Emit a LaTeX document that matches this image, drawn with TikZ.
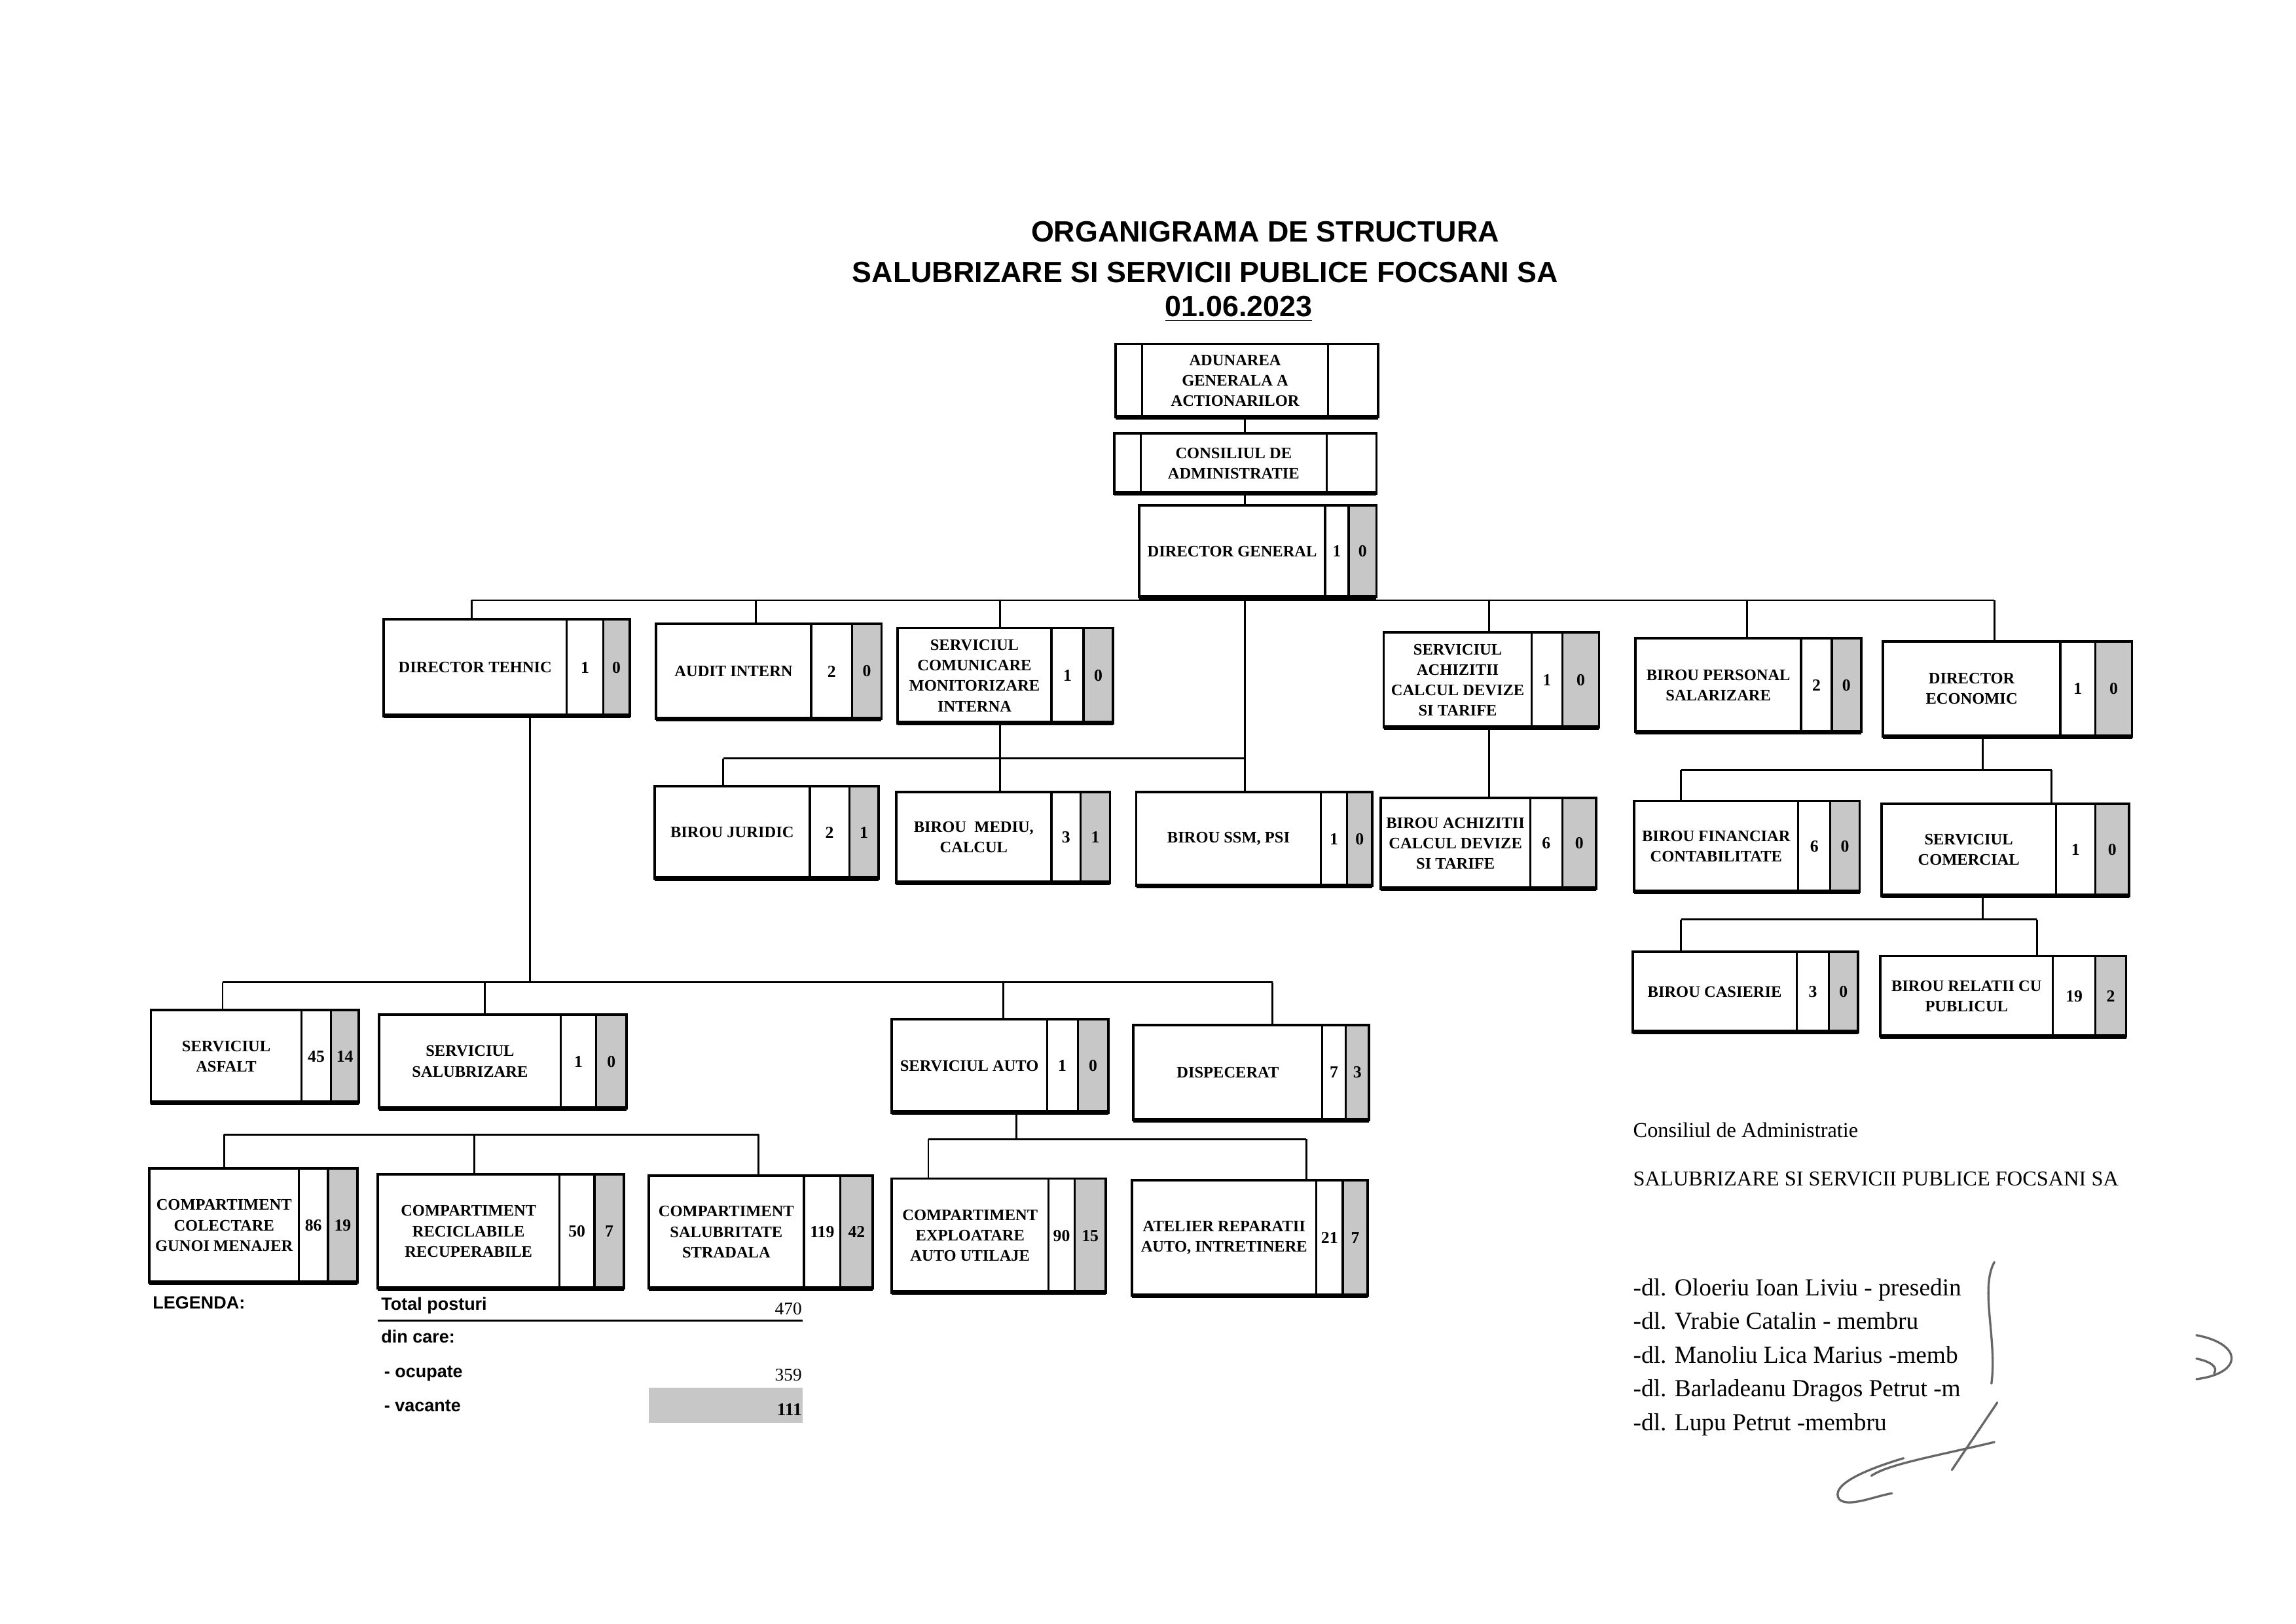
\documentclass[tikz,border=0pt]{standalone}
\usepackage{fontspec}
\setmainfont{Liberation Serif}
\newfontfamily\arialf{Liberation Sans}
\usetikzlibrary{fit}
\tikzset{
  frame/.style={draw, line width=0.9pt, inner sep=0pt, outer sep=0pt},
  conn/.style={line width=0.7pt},
  cell/.style={line width=0.8pt},
  vac/.style={fill=black!22},
  boxtext/.style={font=\fontsize{5.9}{7.5}\selectfont\bfseries, align=center, inner sep=0pt},
  numtext/.style={font=\fontsize{6.2}{7.5}\selectfont\bfseries, inner sep=0pt},
  titlefont/.style={font=\arialf\bfseries\fontsize{10.8}{13}\selectfont, anchor=base, inner sep=0pt},
  legfont/.style={font=\arialf\bfseries\fontsize{6.5}{8}\selectfont, inner sep=0pt},
  legnum/.style={font=\fontsize{6.6}{8}\selectfont, inner sep=0pt, anchor=base east},
  signame/.style={font=\fontsize{9}{11}\selectfont, inner sep=0pt, anchor=base west},
  sigline/.style={draw=black!60, line width=0.8pt, line cap=round},
}
\newcommand\obox[7]{%
  \fill[vac] (#7,#3) rectangle (#4,#5);
  \node[frame, fit={(#2,#3) (#4,#5)}] (#1) {};
  \draw[cell] (#6,#3) -- (#6,#5) (#7,#3) -- (#7,#5);
  \draw[line width=1.7pt] (#1.south west) -- (#1.south east);
  \def\bxA{#2}\def\bxB{#3}\def\bxC{#4}\def\bxD{#5}\def\bxE{#6}\def\bxF{#7}}
\newcommand\otext[4]{%
  \node[boxtext] (#1-t) at ({(\bxA+\bxE)/2},{(\bxB+\bxD)/2}) {#2};
  \node[numtext] (#1-n) at ({(\bxE+\bxF)/2},{(\bxB+\bxD)/2}) {#3};
  \node[numtext] (#1-v) at ({(\bxF+\bxC)/2},{(\bxB+\bxD)/2}) {#4};}
\newcommand\tbox[8]{%
  \node[frame, fit={(#2,#3) (#4,#5)}] (#1) {};
  \draw[cell] (#6,#3) -- (#6,#5) (#7,#3) -- (#7,#5);
  \draw[line width=1.7pt] (#1.south west) -- (#1.south east);
  \node[boxtext] (#1-t) at ({(#6+#7)/2},{(#3+#5)/2}) {#8};}
\newcommand\drop[4]{\coordinate (#1) at (#2,#3); \draw[conn] (#1) -- (#1 |- #4.north);}
\begin{document}
\begin{tikzpicture}[x=0.0189413cm, y=-0.018936cm]
\useasboundingbox (0,0) rectangle (1568,1109);
% titles
\node[titlefont] (t1) at (864,165) {ORGANIGRAMA DE STRUCTURA};
\node[titlefont] (t2) at (823,193) {SALUBRIZARE SI SERVICII PUBLICE FOCSANI SA};
\node[titlefont] (t3) at (846,216) {\underline{01.06.2023}};
% top
\tbox{adun}{762}{235}{941}{285}{780}{907}{ADUNAREA\\GENERALA A\\ACTIONARILOR}
\tbox{cons}{761}{296}{940}{337}{779}{906}{CONSILIUL DE\\ADMINISTRATIE}
\obox{dg}{778}{345}{940}{408}{905}{921}\otext{dg}{DIRECTOR GENERAL}{1}{0}
% level 2
\obox{dt}{262}{423}{430}{489}{387}{412}\otext{dt}{DIRECTOR TEHNIC}{1}{0}
\obox{ai}{448}{426}{602}{491}{554}{582}\otext{ai}{AUDIT INTERN}{2}{0}
\obox{scm}{613}{429}{760}{494}{718}{740}\otext{scm}{SERVICIUL\\COMUNICARE\\MONITORIZARE\\INTERNA}{1}{0}
\obox{sach}{945}{432}{1092}{497}{1046}{1067}\otext{sach}{SERVICIUL\\ACHIZITII\\CALCUL DEVIZE\\SI TARIFE}{1}{0}
\obox{bps}{1117}{436}{1271}{500}{1230}{1251}\otext{bps}{BIROU PERSONAL\\SALARIZARE}{2}{0}
\obox{de}{1286}{438}{1456}{503}{1407}{1431}\otext{de}{DIRECTOR\\ECONOMIC}{1}{0}
% level 3
\obox{bj}{447}{537}{600}{600}{553}{580}\otext{bj}{BIROU JURIDIC}{2}{1}
\obox{bm}{612}{541}{758}{603}{718}{738}\otext{bm}{BIROU \ MEDIU,\\CALCUL}{3}{1}
\obox{bssm}{776}{541}{937}{605}{902}{920}\otext{bssm}{BIROU SSM, PSI}{1}{0}
\obox{bach}{943}{545}{1090}{607}{1045}{1067}\otext{bach}{BIROU ACHIZITII\\CALCUL DEVIZE\\SI TARIFE}{6}{0}
\obox{bfc}{1116}{547}{1270}{609}{1228}{1250}\otext{bfc}{BIROU FINANCIAR\\CONTABILITATE}{6}{0}
\obox{scom}{1285}{549}{1454}{612}{1404}{1431}\otext{scom}{SERVICIUL\\COMERCIAL}{1}{0}
\obox{bcas}{1115}{650}{1269}{705}{1227}{1249}\otext{bcas}{BIROU CASIERIE}{3}{0}
\obox{brp}{1284}{653}{1452}{708}{1402}{1431}\otext{brp}{BIROU RELATII CU\\PUBLICUL}{19}{2}
% level 4
\obox{sasf}{103}{690}{245}{753}{206}{226}\otext{sasf}{SERVICIUL\\ASFALT}{45}{14}
\obox{ssal}{259}{693}{428}{757}{383}{407}\otext{ssal}{SERVICIUL\\SALUBRIZARE}{1}{0}
\obox{sauto}{609}{696}{757}{760}{715}{736}\otext{sauto}{SERVICIUL AUTO}{1}{0}
\obox{disp}{774}{700}{935}{765}{903}{919}\otext{disp}{DISPECERAT}{7}{3}
% level 5
\obox{ccol}{102}{798}{244}{876}{204}{224}\otext{ccol}{COMPARTIMENT\\COLECTARE\\GUNOI MENAJER}{86}{19}
\obox{crec}{258}{802}{426}{880}{382}{406}\otext{crec}{COMPARTIMENT\\RECICLABILE\\RECUPERABILE}{50}{7}
\obox{csal}{443}{803}{596}{880}{549}{574}\otext{csal}{COMPARTIMENT\\SALUBRITATE\\STRADALA}{119}{42}
\obox{cexp}{609}{805}{755}{883}{716}{734}\otext{cexp}{COMPARTIMENT\\EXPLOATARE\\AUTO UTILAJE}{90}{15}
\obox{atel}{773}{806}{934}{885}{899}{917}\otext{atel}{ATELIER REPARATII\\AUTO, INTRETINERE}{21}{7}
% connectors: trunk
\coordinate (k850) at (850,410);
\draw[conn] (adun.south -| k850) -- (cons.north -| k850);
\draw[conn] (cons.south -| k850) -- (dg.north -| k850);
\draw[conn] (dg.south -| k850) -- (bssm.north -| k850);
% level 2 bar
\coordinate (L2a) at (322,410); \coordinate (L2b) at (1362,410);
\draw[conn] (L2a) -- (L2b);
\drop{d-dt}{322}{410}{dt}
\drop{d-ai}{516}{410}{ai}
\drop{d-scm}{683}{410}{scm}
\drop{d-sach}{1017}{410}{sach}
\drop{d-bps}{1193}{410}{bps}
\drop{d-de}{1362}{410}{de}
% middle bar
\coordinate (M1) at (494,518); \coordinate (M2) at (850,518);
\draw[conn] (M1) -- (M2);
\drop{d-bj}{494}{518}{bj}
\coordinate (x683) at (683,518);
\draw[conn] (scm.south -| x683) -- (bm.north -| x683);
\coordinate (x1017) at (1017,520);
\draw[conn] (sach.south -| x1017) -- (bach.north -| x1017);
% director economic
\coordinate (E0) at (1354,526);
\draw[conn] (de.south -| E0) -- (E0);
\coordinate (E1) at (1148,526); \coordinate (E2) at (1401,526);
\draw[conn] (E1) -- (E2);
\drop{d-bfc}{1148}{526}{bfc}
\drop{d-scom}{1401}{526}{scom}
% serviciul comercial
\coordinate (F0) at (1354,628);
\draw[conn] (scom.south -| F0) -- (F0);
\coordinate (F1) at (1148,628); \coordinate (F2) at (1391,628);
\draw[conn] (F1) -- (F2);
\drop{d-bcas}{1148}{628}{bcas}
\drop{d-brp}{1391}{628}{brp}
% director tehnic
\coordinate (G0) at (362,671);
\draw[conn] (dt.south -| G0) -- (G0);
\coordinate (G1) at (152,671); \coordinate (G2) at (869,671);
\draw[conn] (G1) -- (G2);
\drop{d-sasf}{152}{671}{sasf}
\drop{d-ssal}{331}{671}{ssal}
\drop{d-sauto}{685}{671}{sauto}
\drop{d-disp}{869}{671}{disp}
% compartimente salubrizare
\coordinate (P1) at (153,775); \coordinate (P2) at (518,775);
\draw[conn] (P1) -- (P2);
\drop{d-ccol}{153}{775}{ccol}
\drop{d-crec}{324}{775}{crec}
\drop{d-csal}{518}{775}{csal}
% serviciul auto
\coordinate (H0) at (694,778);
\draw[conn] (sauto.south -| H0) -- (H0);
\coordinate (H1) at (634,778); \coordinate (H2) at (892,778);
\draw[conn] (H1) -- (H2);
\drop{d-cexp}{634}{778}{cexp}
\drop{d-atel}{892}{778}{atel}
% legend
\node[legfont, anchor=base west] (leg) at (104,894) {LEGENDA:};
\node[legfont, anchor=base west] (ltot) at (260,895) {Total posturi};
\node[legnum] (ntot) at (548,898) {470};
\coordinate (u1) at (258,902); \coordinate (u2) at (548,902);
\draw[line width=0.6pt] (u1) -- (u2);
\node[legfont, anchor=base west] (ldin) at (260,917) {din care:};
\node[legfont, anchor=base west] (locu) at (262,941) {- ocupate};
\node[legnum] (nocu) at (548,943) {359};
\fill[vac] (443,948) rectangle (548,972);
\node[legfont, anchor=base west] (lvac) at (262,964) {- vacante};
\node[legnum, font=\fontsize{6.6}{8}\selectfont\bfseries] (nvac) at (548,967) {111};
% council text
\node[font=\fontsize{7.8}{9}\selectfont, inner sep=0pt, anchor=base west] (ca) at (1115,777) {Consiliul de Administratie};
\node[font=\fontsize{7.8}{9}\selectfont, inner sep=0pt, anchor=base west] (cb) at (1115,810) {SALUBRIZARE SI SERVICII PUBLICE FOCSANI SA};
\node[signame] (s1) at (1115,885) {-dl. Oloeriu Ioan Liviu - presedin};
\node[signame] (s2) at (1115,908) {-dl. Vrabie Catalin - membru};
\node[signame] (s3) at (1115,931) {-dl. Manoliu Lica Marius -memb};
\node[signame] (s4) at (1115,954) {-dl. Barladeanu Dragos Petrut -m};
\node[signame] (s5) at (1115,977) {-dl. Lupu Petrut -membru};
% signature strokes
\draw[sigline] (1362,862) .. controls (1352,880) and (1364,915) .. (1360,945);
\draw[sigline] (1364,958) -- (1333,1004);
\draw[sigline] (1362,985) .. controls (1320,995) and (1290,1000) .. (1278,1008);
\draw[sigline] (1300,996) .. controls (1270,1005) and (1250,1015) .. (1256,1024) .. controls (1262,1030) and (1280,1022) .. (1292,1020);
\draw[sigline] (1500,912) .. controls (1532,918) and (1532,938) .. (1500,942);
\draw[sigline] (1500,928) .. controls (1510,930) and (1515,934) .. (1512,938);
\end{tikzpicture}
\end{document}
